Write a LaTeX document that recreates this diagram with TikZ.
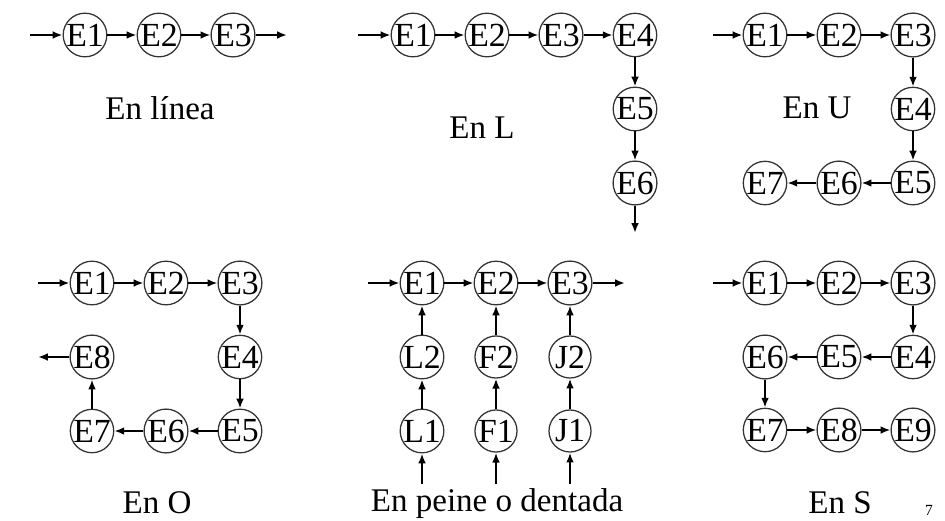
\documentclass[tikz,border=0pt]{standalone}
\usepackage{fontspec}
\setmainfont{Liberation Serif}
\usetikzlibrary{arrows.meta}

\begin{document}
\begin{tikzpicture}[x=0.025cm,y=-0.025cm,
  est/.style={draw=black!80,line width=0.9pt,circle,inner sep=0pt,minimum size=1.05cm,
    font=\fontsize{24}{28}\selectfont},
  flecha/.style={line width=1.6pt,-{Latex[length=7pt,width=5.5pt]}},
  titulo/.style={anchor=base,font=\fontsize{23.5}{27}\selectfont}]
\useasboundingbox (0,0) rectangle (945,520);

%1
\node[est] (a1) at (85,35) {E1};
\node[est] (a2) at (159,35) {E2};
\node[est] (a3) at (233,35) {E3};
\coordinate (a0) at (30,35);
\coordinate (a4) at (287,35);
\draw[flecha] (a0)--(a1);
\draw[flecha] (a1)--(a2);
\draw[flecha] (a2)--(a3);
\draw[flecha] (a3)--(a4);
\node[titulo] (ta) at (160,119) {En línea};

%2
\node[est] (b1) at (413,35) {E1};
\node[est] (b2) at (487,35) {E2};
\node[est] (b3) at (561,35) {E3};
\node[est] (b4) at (635,35) {E4};
\node[est] (b5) at (635,109) {E5};
\node[est] (b6) at (635,183) {E6};
\coordinate (b0) at (358,35);
\coordinate (b7) at (635,233);
\draw[flecha] (b0)--(b1);
\draw[flecha] (b1)--(b2);
\draw[flecha] (b2)--(b3);
\draw[flecha] (b3)--(b4);
\draw[flecha] (b4)--(b5);
\draw[flecha] (b5)--(b6);
\draw[flecha] (b6)--(b7);
\node[titulo] (tb) at (482,138) {En L};

%3
\node[est] (c1) at (765,35) {E1};
\node[est] (c2) at (839,35) {E2};
\node[est] (c3) at (913,35) {E3};
\node[est] (c4) at (913,109) {E4};
\node[est] (c5) at (913,183) {E5};
\node[est] (c6) at (839,183) {E6};
\node[est] (c7) at (765,183) {E7};
\coordinate (c0) at (713,35);
\draw[flecha] (c0)--(c1);
\draw[flecha] (c1)--(c2);
\draw[flecha] (c2)--(c3);
\draw[flecha] (c3)--(c4);
\draw[flecha] (c4)--(c5);
\draw[flecha] (c5)--(c6);
\draw[flecha] (c6)--(c7);
\node[titulo] (tc) at (817,118) {En U};

%4
\node[est] (d1) at (92,283) {E1};
\node[est] (d2) at (166,283) {E2};
\node[est] (d3) at (240,283) {E3};
\node[est] (d4) at (240,357) {E4};
\node[est] (d5) at (240,431) {E5};
\node[est] (d6) at (166,431) {E6};
\node[est] (d7) at (92,431) {E7};
\node[est] (d8) at (92,357) {E8};
\coordinate (d0) at (38,283);
\coordinate (d9) at (38,357);
\draw[flecha] (d0)--(d1);
\draw[flecha] (d1)--(d2);
\draw[flecha] (d2)--(d3);
\draw[flecha] (d3)--(d4);
\draw[flecha] (d4)--(d5);
\draw[flecha] (d5)--(d6);
\draw[flecha] (d6)--(d7);
\draw[flecha] (d7)--(d8);
\draw[flecha] (d8)--(d9);
\node[titulo] (td) at (157,513) {En O};

%5
\node[est] (e1) at (422,283) {E1};
\node[est] (e2) at (496,283) {E2};
\node[est] (e3) at (570,283) {E3};
\node[est] (l2) at (422,357) {L2};
\node[est] (l1) at (422,431) {L1};
\node[est] (f2) at (496,357) {F2};
\node[est] (f1) at (496,431) {F1};
\node[est] (j2) at (570,357) {J2};
\node[est] (j1) at (570,431) {J1};
\coordinate (e0) at (368,283);
\coordinate (e4) at (625,283);
\coordinate (l0) at (422,484);
\coordinate (f0) at (496,484);
\coordinate (j0) at (570,484);
\draw[flecha] (e0)--(e1);
\draw[flecha] (e1)--(e2);
\draw[flecha] (e2)--(e3);
\draw[flecha] (e3)--(e4);
\draw[flecha] (l0)--(l1);
\draw[flecha] (l1)--(l2);
\draw[flecha] (l2)--(e1);
\draw[flecha] (f0)--(f1);
\draw[flecha] (f1)--(f2);
\draw[flecha] (f2)--(e2);
\draw[flecha] (j0)--(j1);
\draw[flecha] (j1)--(j2);
\draw[flecha] (j2)--(e3);
\node[titulo] (te) at (497,511) {En peine o dentada};

%6
\node[est] (s1) at (765,283) {E1};
\node[est] (s2) at (839,283) {E2};
\node[est] (s3) at (913,283) {E3};
\node[est] (s4) at (913,357) {E4};
\node[est] (s5) at (839,357) {E5};
\node[est] (s6) at (765,357) {E6};
\node[est] (s7) at (765,430) {E7};
\node[est] (s8) at (839,430) {E8};
\node[est] (s9) at (913,430) {E9};
\coordinate (s0) at (713,283);
\draw[flecha] (s0)--(s1);
\draw[flecha] (s1)--(s2);
\draw[flecha] (s2)--(s3);
\draw[flecha] (s3)--(s4);
\draw[flecha] (s4)--(s5);
\draw[flecha] (s5)--(s6);
\draw[flecha] (s6)--(s7);
\draw[flecha] (s7)--(s8);
\draw[flecha] (s8)--(s9);
\node[titulo] (ts) at (840,513) {En S};
\node[anchor=base,font=\fontsize{11}{13}\selectfont] (pag) at (929,515) {7};

\end{tikzpicture}
\end{document}
